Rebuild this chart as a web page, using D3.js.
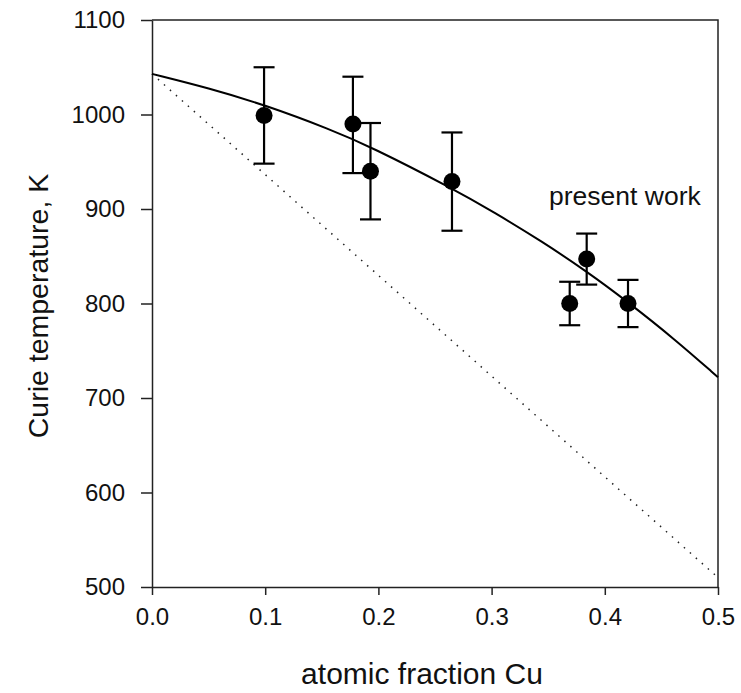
<!DOCTYPE html>
<html>
  <head>
    <meta charset="utf-8">
    <title>Curie temperature</title>
    <style>
      body { margin: 0; background: white; }
      text { font-family: "Liberation Sans", Arial, sans-serif; fill: #111; }
      .axis path, .axis line { stroke: #222; stroke-width: 1.5; }
      .frame { stroke: #222; stroke-width: 1.5; fill: none; }
      .fit { fill: none; stroke: black; stroke-width: 2; }
      .ideal { fill: none; stroke: #222; stroke-width: 1.5; stroke-dasharray: 1.5 6.5; }
      .err { stroke: black; stroke-width: 2.2; }
      .pt { fill: black; }
    </style>
  </head>
  <body>
    <svg width="741" height="693"></svg>
    <script src="https://d3js.org/d3.v7.min.js"></script>
    <script>
      // measured points (present work)
      const cuFraction = [0.099, 0.1775, 0.193, 0.265, 0.369, 0.384, 0.4205];
      const tempK      = [999, 990, 940, 929, 800, 847, 800];
      const errHigh    = [1050, 1040, 991, 981, 823, 874, 825];
      const errLow     = [948, 938, 889, 877, 777, 820, 775];

      // solid curve
      const curveX = [0, 0.05, 0.1, 0.158, 0.193, 0.265, 0.303, 0.344, 0.384, 0.42, 0.462, 0.5];
      const curveT = [1043, 1028, 1010, 984, 966, 922, 896, 866, 834, 802, 762, 722];

      // dotted straight line
      const dottedX = [0, 0.5];
      const dottedT = [1043, 510];

      const xTicks = [0, 0.1, 0.2, 0.3, 0.4, 0.5];
      const yTicks = [500, 600, 700, 800, 900, 1000, 1100];

      const svg = d3.select("svg");
      const plotLeft = 152, plotRight = 718, plotTop = 20, plotBottom = 587;

      const x = d3.scaleLinear().domain([0, 0.5]).range([plotLeft, plotRight]);
      const y = d3.scaleLinear().domain([500, 1100]).range([plotBottom, plotTop]);

      // frame (top + right)
      svg.append("path")
        .attr("class", "frame")
        .attr("d", `M${x(0)},${y(1100)}H${x(0.5)}V${y(500)}`);

      svg.append("g")
        .attr("class", "axis")
        .attr("transform", `translate(0,${plotBottom})`)
        .call(d3.axisBottom(x).tickValues(xTicks).tickSize(8).tickSizeOuter(0)
          .tickPadding(13).tickFormat(d3.format(".1f")))
        .call(g => g.attr("font-family", null).attr("font-size", null))
        .call(g => g.selectAll("text").attr("font-size", 24));

      svg.append("g")
        .attr("class", "axis")
        .attr("transform", `translate(${plotLeft},0)`)
        .call(d3.axisLeft(y).tickValues(yTicks).tickSize(11).tickSizeOuter(0)
          .tickPadding(16).tickFormat(d3.format("d")))
        .call(g => g.attr("font-family", null).attr("font-size", null))
        .call(g => g.selectAll("text").attr("font-size", 24));

      // dotted line
      svg.append("path")
        .attr("class", "ideal")
        .attr("d", d3.line().x(i => x(dottedX[i])).y(i => y(dottedT[i]))(d3.range(dottedX.length)));

      // fitted curve
      svg.append("path")
        .attr("class", "fit")
        .attr("d", d3.line().curve(d3.curveBasis)
          .x(i => x(curveX[i])).y(i => y(curveT[i]))(d3.range(curveX.length)));

      // error bars
      const capW = 10.5;
      const bars = svg.append("g")
        .selectAll("g")
        .data(d3.range(cuFraction.length))
        .join("g");

      bars.append("line").attr("class", "err")
        .attr("x1", i => x(cuFraction[i])).attr("x2", i => x(cuFraction[i]))
        .attr("y1", i => y(errLow[i])).attr("y2", i => y(errHigh[i]));
      bars.append("line").attr("class", "err")
        .attr("x1", i => x(cuFraction[i]) - capW).attr("x2", i => x(cuFraction[i]) + capW)
        .attr("y1", i => y(errHigh[i])).attr("y2", i => y(errHigh[i]));
      bars.append("line").attr("class", "err")
        .attr("x1", i => x(cuFraction[i]) - capW).attr("x2", i => x(cuFraction[i]) + capW)
        .attr("y1", i => y(errLow[i])).attr("y2", i => y(errLow[i]));

      bars.append("circle").attr("class", "pt")
        .attr("cx", i => x(cuFraction[i]))
        .attr("cy", i => y(tempK[i]))
        .attr("r", 8.5);

      svg.append("text")
        .attr("x", 549).attr("y", 205)
        .attr("font-size", 26.5)
        .text("present work");

      svg.append("text")
        .attr("x", 422).attr("y", 684)
        .attr("text-anchor", "middle")
        .attr("font-size", 30)
        .text("atomic fraction Cu");

      svg.append("text")
        .attr("transform", `translate(48,306) rotate(-90)`)
        .attr("text-anchor", "middle")
        .attr("font-size", 28.5)
        .text("Curie temperature, K");
    </script>
  </body>
</html>
